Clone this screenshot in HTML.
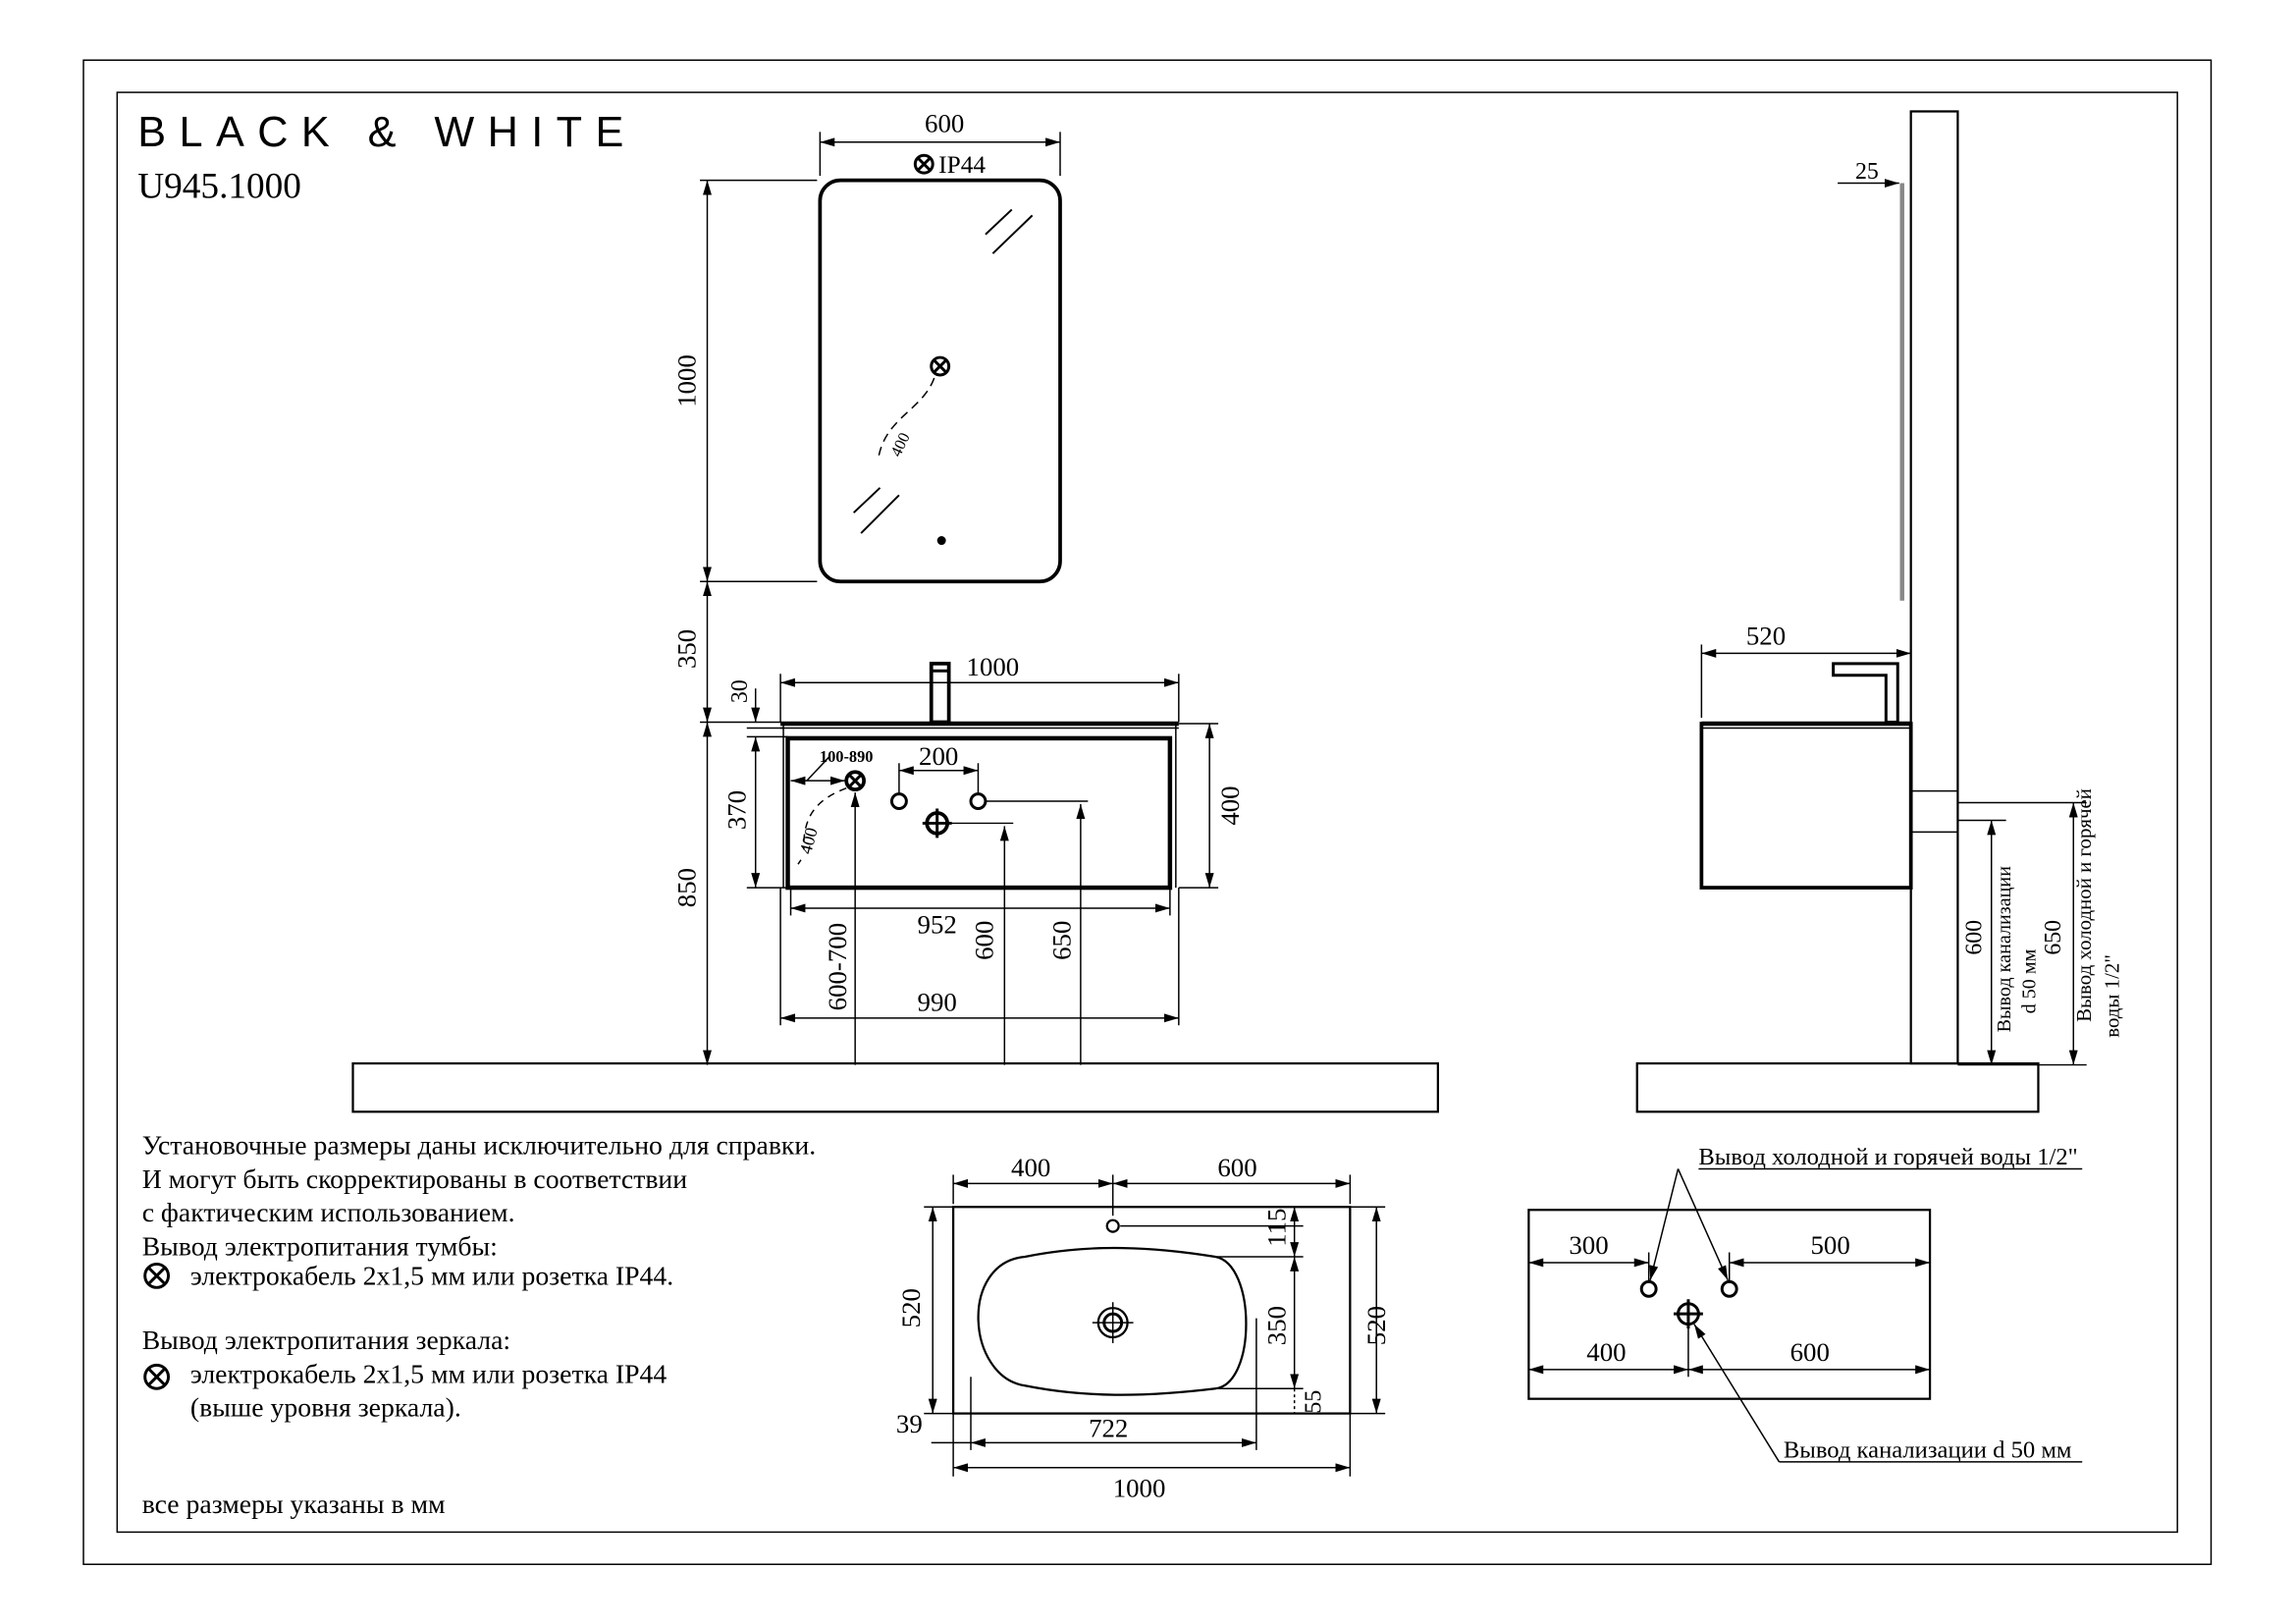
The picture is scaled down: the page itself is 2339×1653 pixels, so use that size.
<!DOCTYPE html>
<html><head><meta charset="utf-8"><style>
html,body{margin:0;padding:0;background:#fff}
svg{display:block}
text{font-family:"Liberation Serif","DejaVu Serif",serif;fill:#000}
</style></head><body>
<svg width="2339" height="1653" viewBox="0 0 1568 1108" xmlns="http://www.w3.org/2000/svg">
<defs>
<marker id="a" viewBox="0 0 10 6" refX="10" refY="3" markerWidth="10" markerHeight="6" orient="auto-start-reverse" markerUnits="userSpaceOnUse"><path d="M0,0 L10,3 L0,6z" fill="#000"/></marker>
</defs>
<rect x="0" y="0" width="1568" height="1108" fill="#fff"/>
<rect x="57" y="41" width="1453" height="1027" fill="none" stroke="#000" stroke-width="1"/>
<rect x="80" y="63" width="1407" height="983" fill="none" stroke="#000" stroke-width="1"/>
<text x="94" y="100" font-size="29" letter-spacing="9" style="font-family:'Liberation Sans',sans-serif">BLACK &amp; WHITE</text>
<text x="94" y="135" font-size="25">U945.1000</text>

<g stroke="#000" fill="none" stroke-width="1">
<rect x="560" y="123" width="164" height="274" rx="14" stroke-width="2.5"/>
<line x1="560" y1="120" x2="560" y2="90"/><line x1="724" y1="120" x2="724" y2="90"/>
<line x1="560" y1="97" x2="724" y2="97" marker-start="url(#a)" marker-end="url(#a)"/>
<circle cx="631" cy="112" r="6" stroke-width="2"/><path d="M627,108 l8,8 M635,108 l-8,8" stroke-width="2"/>
<path d="M673,160 l18,-17 M678,173 l27,-26 M583,350 l18,-17 M588,364 l26,-26" stroke-width="1.3"/>
<circle cx="642" cy="250" r="6" stroke-width="2"/><path d="M638,246 l8,8 M646,246 l-8,8" stroke-width="2"/>
<path d="M638,258 C630,280 605,285 600,312" stroke-dasharray="6,4"/>
<circle cx="643" cy="369" r="2.5" fill="#000"/>
<line x1="478" y1="123" x2="558" y2="123"/><line x1="478" y1="397" x2="558" y2="397"/>
<line x1="483" y1="123" x2="483" y2="397" marker-start="url(#a)" marker-end="url(#a)"/>
<line x1="483" y1="397" x2="483" y2="493" marker-start="url(#a)" marker-end="url(#a)"/>
<line x1="478" y1="493" x2="533" y2="493"/>
<line x1="483" y1="493" x2="483" y2="727" marker-start="url(#a)" marker-end="url(#a)"/>
<line x1="510" y1="497" x2="535" y2="497"/>
<line x1="516" y1="470" x2="516" y2="493" marker-end="url(#a)"/>
<line x1="510" y1="503" x2="538" y2="503"/><line x1="510" y1="606" x2="538" y2="606"/>
<line x1="516" y1="503" x2="516" y2="606" marker-start="url(#a)" marker-end="url(#a)"/>
<line x1="533" y1="494" x2="805" y2="494" stroke-width="3"/>
<line x1="533" y1="497" x2="805" y2="497"/>
<rect x="538" y="504" width="261" height="102" stroke-width="3"/>
<line x1="535" y1="494" x2="535" y2="606"/><line x1="803" y1="494" x2="803" y2="606"/>
<rect x="636" y="453" width="12" height="40" stroke-width="2.5"/><line x1="636" y1="458" x2="648" y2="458" stroke-width="2"/>
<line x1="533" y1="460" x2="533" y2="493"/><line x1="805" y1="460" x2="805" y2="493"/>
<line x1="533" y1="466" x2="805" y2="466" marker-start="url(#a)" marker-end="url(#a)"/>
<line x1="805" y1="494" x2="832" y2="494"/><line x1="805" y1="606" x2="832" y2="606"/>
<line x1="826" y1="494" x2="826" y2="606" marker-start="url(#a)" marker-end="url(#a)"/>
<line x1="540" y1="606" x2="540" y2="625"/><line x1="799" y1="606" x2="799" y2="625"/>
<line x1="540" y1="620" x2="799" y2="620" marker-start="url(#a)" marker-end="url(#a)"/>
<line x1="533" y1="606" x2="533" y2="700"/><line x1="805" y1="606" x2="805" y2="700"/>
<line x1="533" y1="695" x2="805" y2="695" marker-start="url(#a)" marker-end="url(#a)"/>
<circle cx="614" cy="547" r="5" stroke-width="2"/><circle cx="668" cy="547" r="5" stroke-width="2"/>
<line x1="614" y1="542" x2="614" y2="521"/><line x1="668" y1="542" x2="668" y2="521"/>
<line x1="614" y1="526" x2="668" y2="526" marker-start="url(#a)" marker-end="url(#a)"/>
<circle cx="640" cy="562" r="7" stroke-width="2.5"/><path d="M630,562 h20 M640,552 v20" stroke-width="2"/>
<line x1="673" y1="547" x2="743" y2="547"/><line x1="738" y1="727" x2="738" y2="549" marker-end="url(#a)"/>
<line x1="648" y1="562" x2="692" y2="562"/><line x1="686" y1="727" x2="686" y2="564" marker-end="url(#a)"/>
<circle cx="584" cy="533" r="6" stroke-width="2.5"/><path d="M580,529 l8,8 M588,529 l-8,8" stroke-width="2"/>
<line x1="584" y1="727" x2="584" y2="541" marker-end="url(#a)"/>
<line x1="540" y1="533" x2="577" y2="533" marker-start="url(#a)" marker-end="url(#a)"/>
<line x1="551" y1="533" x2="566" y2="517"/>
<path d="M578,538 C560,545 548,555 549,580 M545,590 l2,-3" stroke-dasharray="5,4"/>
<rect x="241" y="726" width="741" height="33" stroke-width="1.5"/>
<rect x="1118" y="726" width="274" height="33" stroke-width="1.5"/>
<rect x="1305" y="76" width="32" height="650" stroke-width="1.5"/>
<line x1="1299" y1="125" x2="1299" y2="410" stroke="#888" stroke-width="3"/>
<line x1="1255" y1="125" x2="1297" y2="125" marker-end="url(#a)"/>
<rect x="1162" y="494" width="143" height="112" stroke-width="2.5"/>
<line x1="1162" y1="494" x2="1305" y2="494" stroke-width="3"/>
<line x1="1162" y1="497" x2="1305" y2="497"/>
<path d="M1252,453 h44 v40 h-8 v-32 h-36z" stroke-width="2"/>
<line x1="1162" y1="440" x2="1162" y2="490"/><line x1="1305" y1="440" x2="1305" y2="450"/>
<line x1="1162" y1="446" x2="1305" y2="446" marker-start="url(#a)" marker-end="url(#a)"/>
<rect x="1305" y="540" width="32" height="28" stroke-width="1"/>
<line x1="1337" y1="548" x2="1425" y2="548"/><line x1="1337" y1="560" x2="1370" y2="560"/>
<line x1="1360" y1="560" x2="1360" y2="727" marker-start="url(#a)" marker-end="url(#a)"/>
<line x1="1416" y1="548" x2="1416" y2="727" marker-start="url(#a)" marker-end="url(#a)"/>
<line x1="1337" y1="727" x2="1425" y2="727"/>
<rect x="651" y="824" width="271" height="141" stroke-width="1.5"/>
<path d="M700,858 C740,850 780,850 830,858 C858,863 858,945 830,948 C780,954 740,954 700,946 C660,940 655,862 700,858z" stroke-width="1.5"/>
<circle cx="760" cy="837" r="4" stroke-width="1.5"/>
<circle cx="760" cy="903" r="10" stroke-width="1.5"/><circle cx="760" cy="903" r="6" stroke-width="2"/>
<path d="M746,903 h28 M760,889 v28" stroke-width="1"/>
<line x1="651" y1="802" x2="651" y2="822"/><line x1="760" y1="802" x2="760" y2="830"/><line x1="922" y1="802" x2="922" y2="822"/>
<line x1="651" y1="808" x2="760" y2="808" marker-start="url(#a)" marker-end="url(#a)"/>
<line x1="760" y1="808" x2="922" y2="808" marker-start="url(#a)" marker-end="url(#a)"/>
<line x1="631" y1="824" x2="651" y2="824"/><line x1="631" y1="965" x2="651" y2="965"/>
<line x1="637" y1="824" x2="637" y2="965" marker-start="url(#a)" marker-end="url(#a)"/>
<line x1="922" y1="824" x2="946" y2="824"/><line x1="922" y1="965" x2="946" y2="965"/>
<line x1="940" y1="824" x2="940" y2="965" marker-start="url(#a)" marker-end="url(#a)"/>
<line x1="765" y1="837" x2="890" y2="837"/><line x1="830" y1="858" x2="890" y2="858"/><line x1="830" y1="948" x2="890" y2="948"/>
<line x1="884" y1="824" x2="884" y2="858" marker-start="url(#a)" marker-end="url(#a)"/>
<line x1="884" y1="858" x2="884" y2="948" marker-start="url(#a)" marker-end="url(#a)"/>
<line x1="884" y1="948" x2="884" y2="965" stroke-dasharray="2,2"/>
<line x1="663" y1="940" x2="663" y2="990"/><line x1="858" y1="900" x2="858" y2="990"/>
<line x1="663" y1="985" x2="858" y2="985" marker-start="url(#a)" marker-end="url(#a)"/>
<line x1="651" y1="965" x2="651" y2="1008"/><line x1="922" y1="965" x2="922" y2="1008"/>
<line x1="651" y1="1002" x2="922" y2="1002" marker-start="url(#a)" marker-end="url(#a)"/>
<line x1="636" y1="985" x2="663" y2="985"/>
<rect x="1044" y="826" width="274" height="129" stroke-width="1.5"/>
<circle cx="1126" cy="880" r="5" stroke-width="2"/><circle cx="1181" cy="880" r="5" stroke-width="2"/>
<circle cx="1153" cy="897" r="7" stroke-width="2"/><path d="M1143,897 h20 M1153,887 v20" stroke-width="2"/>
<line x1="1044" y1="862" x2="1126" y2="862" marker-start="url(#a)" marker-end="url(#a)"/>
<line x1="1181" y1="862" x2="1318" y2="862" marker-start="url(#a)" marker-end="url(#a)"/>
<line x1="1126" y1="855" x2="1126" y2="875"/><line x1="1181" y1="855" x2="1181" y2="875"/>
<line x1="1044" y1="935" x2="1153" y2="935" marker-start="url(#a)" marker-end="url(#a)"/>
<line x1="1153" y1="935" x2="1318" y2="935" marker-start="url(#a)" marker-end="url(#a)"/>
<line x1="1153" y1="905" x2="1153" y2="940"/>
<line x1="1160" y1="798" x2="1422" y2="798"/>
<line x1="1146" y1="798" x2="1127" y2="874" marker-end="url(#a)"/>
<line x1="1146" y1="798" x2="1180" y2="874" marker-end="url(#a)"/>
<line x1="1215" y1="998" x2="1422" y2="998"/>
<line x1="1215" y1="998" x2="1157" y2="904" marker-end="url(#a)"/>
<circle cx="107" cy="871" r="8" stroke-width="2"/><path d="M102,866 l10,10 M112,866 l-10,10" stroke-width="2"/>
<circle cx="107" cy="940" r="8" stroke-width="2"/><path d="M102,935 l10,10 M112,935 l-10,10" stroke-width="2"/>
</g>

<g font-size="18">
<text x="645" y="90" text-anchor="middle">600</text>
<text x="641" y="118" font-size="17">IP44</text>
<text transform="translate(618,305) rotate(-65)" font-size="11" text-anchor="middle">400</text>
<text transform="translate(475,260) rotate(-90)" text-anchor="middle">1000</text>
<text transform="translate(475,443) rotate(-90)" text-anchor="middle">350</text>
<text transform="translate(510,472) rotate(-90)" text-anchor="middle" font-size="16">30</text>
<text transform="translate(475,606) rotate(-90)" text-anchor="middle">850</text>
<text transform="translate(509,553) rotate(-90)" text-anchor="middle">370</text>
<text transform="translate(846,550) rotate(-90)" text-anchor="middle">400</text>
<text x="678" y="461" text-anchor="middle">1000</text>
<text x="641" y="522" text-anchor="middle">200</text>
<text x="578" y="520" text-anchor="middle" font-size="11" font-weight="bold">100-890</text>
<text transform="translate(556,575) rotate(-75)" text-anchor="middle" font-size="12">400</text>
<text x="640" y="637" text-anchor="middle">952</text>
<text x="640" y="690" text-anchor="middle">990</text>
<text transform="translate(578,660) rotate(-90)" text-anchor="middle">600-700</text>
<text transform="translate(678,642) rotate(-90)" text-anchor="middle">600</text>
<text transform="translate(731,642) rotate(-90)" text-anchor="middle">650</text>
<text x="1275" y="122" text-anchor="middle" font-size="16">25</text>
<text x="1206" y="440" text-anchor="middle">520</text>
<text transform="translate(1353,640) rotate(-90)" text-anchor="middle" font-size="16">600</text>
<text transform="translate(1407,640) rotate(-90)" text-anchor="middle" font-size="16">650</text>
<text transform="translate(1373,648) rotate(-90)" text-anchor="middle" font-size="13.5">Вывод канализации</text>
<text transform="translate(1390,670) rotate(-90)" text-anchor="middle" font-size="13.5">d 50 мм</text>
<text transform="translate(1428,618) rotate(-90)" text-anchor="middle" font-size="14">Вывод холодной и горячей</text>
<text transform="translate(1447,680) rotate(-90)" text-anchor="middle" font-size="14">воды 1/2"</text>
<text x="704" y="803" text-anchor="middle">400</text>
<text x="845" y="803" text-anchor="middle">600</text>
<text transform="translate(628,893) rotate(-90)" text-anchor="middle">520</text>
<text transform="translate(946,905) rotate(-90)" text-anchor="middle">520</text>
<text transform="translate(878,838) rotate(-90)" text-anchor="middle">115</text>
<text transform="translate(878,905) rotate(-90)" text-anchor="middle">350</text>
<text transform="translate(902,957) rotate(-90)" text-anchor="middle" font-size="16">55</text>
<text x="621" y="978" text-anchor="middle">39</text>
<text x="757" y="981" text-anchor="middle">722</text>
<text x="778" y="1022" text-anchor="middle">1000</text>
<text x="1085" y="856" text-anchor="middle">300</text>
<text x="1250" y="856" text-anchor="middle">500</text>
<text x="1097" y="929" text-anchor="middle">400</text>
<text x="1236" y="929" text-anchor="middle">600</text>
<text x="1160" y="795" font-size="16.5">Вывод холодной и горячей воды 1/2"</text>
<text x="1218" y="995" font-size="16.5">Вывод канализации d 50 мм</text>
</g>
<g font-size="18.6">
<text x="97" y="788">Установочные размеры даны исключительно для справки.</text>
<text x="97" y="811">И могут быть скорректированы в соответствии</text>
<text x="97" y="834">с фактическим использованием.</text>
<text x="97" y="857">Вывод электропитания тумбы:</text>
<text x="130" y="877">электрокабель 2х1,5 мм или розетка IP44.</text>
<text x="97" y="921">Вывод электропитания зеркала:</text>
<text x="130" y="944">электрокабель 2х1,5 мм или розетка IP44</text>
<text x="130" y="967">(выше уровня зеркала).</text>
<text x="97" y="1033">все размеры указаны в мм</text>
</g>
</svg>
</body></html>
